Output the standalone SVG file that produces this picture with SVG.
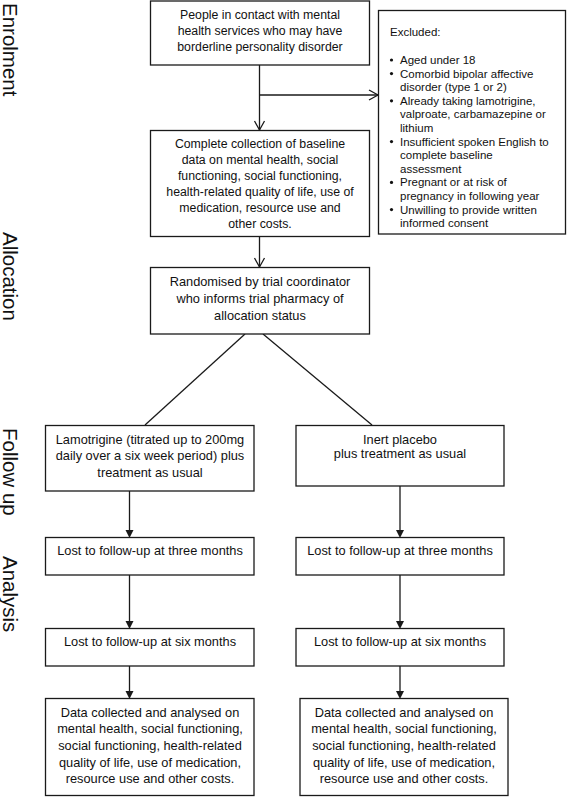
<svg xmlns="http://www.w3.org/2000/svg" width="567" height="797" viewBox="0 0 567 797">
<style>
.box{fill:#fff;stroke:#1a1a1a;stroke-width:1.3}
.t{font-family:"Liberation Sans",Arial,sans-serif;font-size:12.3px;fill:#111;text-anchor:middle}
.t2{font-family:"Liberation Sans",Arial,sans-serif;font-size:12.8px;fill:#111;text-anchor:middle}
.ex{font-family:"Liberation Sans",Arial,sans-serif;font-size:11.5px;fill:#111}
.side{font-family:"Liberation Sans",Arial,sans-serif;font-size:20.5px;fill:#111}
.ln{stroke:#1a1a1a;stroke-width:1.3;fill:none}
.open{stroke:#1a1a1a;stroke-width:1.3;fill:none}
.fill{fill:#1a1a1a;stroke:none}
</style>
<rect width="567" height="797" fill="#fff"/>
<g id="labels">
<text class="side" transform="translate(3,3) rotate(90)">Enrolment</text>
<text class="side" transform="translate(3,232) rotate(90)">Allocation</text>
<text class="side" transform="translate(3,428) rotate(90)">Follow up</text>
<text class="side" transform="translate(3,556) rotate(90)">Analysis</text>
</g>
<g id="connectors">
<line class="ln" x1="259.5" y1="65" x2="259.5" y2="130"/>
<polyline class="open" points="254.5,121 259.5,130 264.5,121"/>
<line class="ln" x1="259.5" y1="95" x2="378" y2="95"/>
<polyline class="open" points="369,90 378,95 369,100"/>
<line class="ln" x1="259.5" y1="237" x2="259.5" y2="267"/>
<polyline class="open" points="254.5,258 259.5,267 264.5,258"/>
<line class="ln" x1="245" y1="334" x2="145" y2="425"/>
<line class="ln" x1="263" y1="334" x2="372" y2="425"/>
<line class="ln" x1="129.5" y1="491" x2="129.5" y2="531"/>
<polygon class="fill" points="125.5,530 133.5,530 129.5,538"/>
<line class="ln" x1="400" y1="486" x2="400" y2="531"/>
<polygon class="fill" points="396,530 404,530 400,538"/>
<line class="ln" x1="129.5" y1="575" x2="129.5" y2="622"/>
<polygon class="fill" points="125.5,621 133.5,621 129.5,629"/>
<line class="ln" x1="400" y1="575" x2="400" y2="622"/>
<polygon class="fill" points="396,621 404,621 400,629"/>
<line class="ln" x1="129.5" y1="666" x2="129.5" y2="692"/>
<polygon class="fill" points="125.5,691 133.5,691 129.5,699"/>
<line class="ln" x1="400" y1="666" x2="400" y2="692"/>
<polygon class="fill" points="396,691 404,691 400,699"/>
</g>
<g id="n-people">
<rect class="box" x="150.5" y="1" width="219" height="64"/>
<text class="t" x="260" y="19">People in contact with mental</text>
<text class="t" x="260" y="35">health services who may have</text>
<text class="t" x="260" y="51">borderline personality disorder</text>
</g>
<g id="n-excluded">
<rect class="box" x="378.5" y="10.5" width="187" height="223.5"/>
<text class="ex" x="390" y="36">Excluded:</text>
<g class="ex">
<circle cx="391.5" cy="60" r="1.6"/>
<text class="ex" x="400" y="64">Aged under 18</text>
<circle cx="391.5" cy="73.6" r="1.6"/>
<text class="ex" x="400" y="77.6">Comorbid bipolar affective</text>
<text class="ex" x="400" y="91.2">disorder (type 1 or 2)</text>
<circle cx="391.5" cy="100.8" r="1.6"/>
<text class="ex" x="400" y="104.8">Already taking lamotrigine,</text>
<text class="ex" x="400" y="118.4">valproate, carbamazepine or</text>
<text class="ex" x="400" y="132">lithium</text>
<circle cx="391.5" cy="141.6" r="1.6"/>
<text class="ex" x="400" y="145.6">Insufficient spoken English to</text>
<text class="ex" x="400" y="159.2">complete baseline</text>
<text class="ex" x="400" y="172.8">assessment</text>
<circle cx="391.5" cy="182.4" r="1.6"/>
<text class="ex" x="400" y="186.4">Pregnant or at risk of</text>
<text class="ex" x="400" y="200">pregnancy in following year</text>
<circle cx="391.5" cy="209.6" r="1.6"/>
<text class="ex" x="400" y="213.6">Unwilling to provide written</text>
<text class="ex" x="400" y="227.2">informed consent</text>
</g>
</g>
<g id="n-baseline">
<rect class="box" x="150.5" y="130.5" width="219" height="106"/>
<text class="t" x="260" y="148">Complete collection of baseline</text>
<text class="t" x="260" y="164">data on mental health, social</text>
<text class="t" x="260" y="180">functioning, social functioning,</text>
<text class="t" x="260" y="196">health-related quality of life, use of</text>
<text class="t" x="260" y="212">medication, resource use and</text>
<text class="t" x="260" y="228">other costs.</text>
</g>
<g id="n-randomised">
<rect class="box" x="150.5" y="267.5" width="219" height="66.5"/>
<text class="t2" x="260" y="285.5">Randomised by trial coordinator</text>
<text class="t2" x="260" y="302.5">who informs trial pharmacy of</text>
<text class="t2" x="260" y="319.5">allocation status</text>
</g>
<g id="n-lamotrigine">
<rect class="box" x="45.5" y="425.5" width="208.5" height="65.5"/>
<text class="t2" x="150" y="443.5">Lamotrigine (titrated up to 200mg</text>
<text class="t2" x="150" y="460">daily over a six week period) plus</text>
<text class="t2" x="150" y="476.5">treatment as usual</text>
</g>
<g id="n-placebo">
<rect class="box" x="296" y="425.5" width="208" height="60.5"/>
<text class="t2" x="400" y="443.5">Inert placebo</text>
<text class="t2" x="400" y="458">plus treatment as usual</text>
</g>
<g id="n-lost3-l">
<rect class="box" x="45.5" y="537.5" width="208.5" height="37.5"/>
<text class="t2" x="150" y="554.5">Lost to follow-up at three months</text>
</g>
<g id="n-lost3-r">
<rect class="box" x="296" y="537.5" width="208" height="37.5"/>
<text class="t2" x="400" y="554.5">Lost to follow-up at three months</text>
</g>
<g id="n-lost6-l">
<rect class="box" x="45.5" y="628.5" width="208.5" height="37.5"/>
<text class="t2" x="150" y="646">Lost to follow-up at six months</text>
</g>
<g id="n-lost6-r">
<rect class="box" x="296" y="628.5" width="208" height="37.5"/>
<text class="t2" x="400" y="646">Lost to follow-up at six months</text>
</g>
<g id="n-data-l">
<rect class="box" x="45.5" y="698.5" width="208.5" height="97"/>
<text class="t2" x="150" y="716.5">Data collected and analysed on</text>
<text class="t2" x="150" y="733">mental health, social functioning,</text>
<text class="t2" x="150" y="750">social functioning, health-related</text>
<text class="t2" x="150" y="766.5">quality of life, use of medication,</text>
<text class="t2" x="150" y="783">resource use and other costs.</text>
</g>
<g id="n-data-r">
<rect class="box" x="300" y="698.5" width="208" height="97"/>
<text class="t2" x="404" y="716.5">Data collected and analysed on</text>
<text class="t2" x="404" y="733">mental health, social functioning,</text>
<text class="t2" x="404" y="750">social functioning, health-related</text>
<text class="t2" x="404" y="766.5">quality of life, use of medication,</text>
<text class="t2" x="404" y="783">resource use and other costs.</text>
</g>
</svg>
